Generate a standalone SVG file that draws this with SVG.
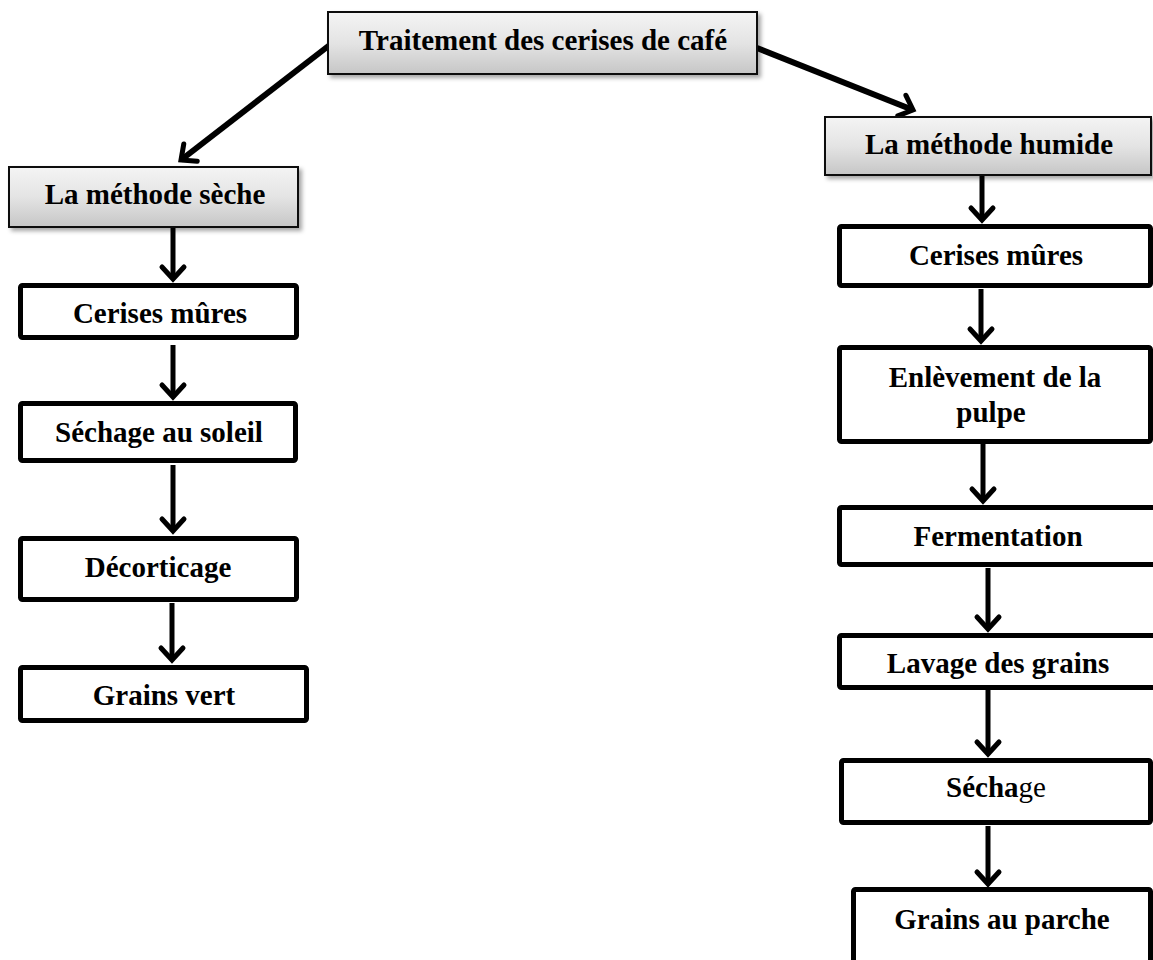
<svg xmlns="http://www.w3.org/2000/svg" width="1153" height="960" viewBox="0 0 1153 960">
  <defs>
    <linearGradient id="headFill" x1="0" y1="0" x2="0" y2="1">
      <stop offset="0" stop-color="#f4f4f4"/>
      <stop offset="0.5" stop-color="#e4e4e4"/>
      <stop offset="1" stop-color="#c6c6c6"/>
    </linearGradient>
    <filter id="shadow" x="-10%" y="-20%" width="125%" height="160%">
      <feDropShadow dx="3" dy="3" stdDeviation="2" flood-color="#000" flood-opacity="0.35"/>
    </filter>
    <marker id="chev" markerUnits="userSpaceOnUse" viewBox="-20 -16 26 32" refX="0" refY="0" markerWidth="26" markerHeight="32" orient="auto" overflow="visible">
      <path d="M-12,-11 L0,0 L-12,11" fill="none" stroke="#000" stroke-width="5" stroke-linecap="round" stroke-linejoin="miter"/>
    </marker>
  </defs>
  <style>
    .head { fill: url(#headFill); stroke: #111; stroke-width: 2; filter: url(#shadow); }
    .step { fill: #fff; stroke: #000; stroke-width: 5; }
    .lbl { font-family: "Liberation Serif", "Times New Roman", serif; font-weight: bold; font-size: 29px; fill: #000; text-anchor: middle; }
    .link { fill: none; stroke: #000; stroke-width: 5; marker-end: url(#chev); }
    .diag { stroke-width: 6; }
  </style>

  <rect width="1153" height="960" fill="#fff"/>

  <!-- connectors -->
  <g id="connectors">
    <line class="link diag" x1="331" y1="44" x2="181" y2="160"/>
    <line class="link diag" x1="757" y1="48" x2="913" y2="110"/>
    <!-- dry method chain -->
    <line class="link" x1="173" y1="228" x2="173" y2="279"/>
    <line class="link" x1="173" y1="345" x2="173" y2="397"/>
    <line class="link" x1="173" y1="465" x2="173" y2="531"/>
    <line class="link" x1="172" y1="603" x2="172" y2="660"/>
    <!-- wet method chain -->
    <line class="link" x1="982" y1="176" x2="982" y2="220"/>
    <line class="link" x1="981" y1="289" x2="981" y2="341"/>
    <line class="link" x1="983" y1="444" x2="983" y2="501"/>
    <line class="link" x1="988" y1="568" x2="988" y2="629"/>
    <line class="link" x1="988" y1="690" x2="988" y2="754"/>
    <line class="link" x1="988" y1="826" x2="988" y2="884"/>
  </g>

  <!-- root -->
  <g id="root">
    <rect class="head" x="328" y="12" width="429" height="62"/>
    <text class="lbl" x="543" y="50">Traitement des cerises de café</text>
  </g>

  <!-- dry method -->
  <g id="dry">
    <rect class="head" x="9" y="167" width="289" height="60"/>
    <text class="lbl" x="155" y="204">La méthode sèche</text>
  </g>
  <g id="dry-cerises">
    <rect class="step" x="20.5" y="285.5" width="276" height="52" rx="2"/>
    <text class="lbl" x="160" y="323">Cerises mûres</text>
  </g>
  <g id="dry-sechage">
    <rect class="step" x="20.5" y="403.5" width="275" height="57" rx="2"/>
    <text class="lbl" x="159" y="442">Séchage au soleil</text>
  </g>
  <g id="dry-decorticage">
    <rect class="step" x="20.5" y="538.5" width="276" height="61" rx="2"/>
    <text class="lbl" x="158" y="577">Décorticage</text>
  </g>
  <g id="dry-grains">
    <rect class="step" x="20.5" y="667.5" width="286" height="53" rx="2"/>
    <text class="lbl" x="164" y="705">Grains vert</text>
  </g>

  <!-- wet method -->
  <g id="wet">
    <rect class="head" x="825" y="117" width="326" height="58"/>
    <text class="lbl" x="989" y="154">La méthode humide</text>
  </g>
  <g id="wet-cerises">
    <rect class="step" x="839.5" y="226.5" width="311" height="59" rx="2"/>
    <text class="lbl" x="996" y="265">Cerises mûres</text>
  </g>
  <g id="wet-pulpe">
    <rect class="step" x="839.5" y="347.5" width="311" height="94" rx="2"/>
    <text class="lbl" x="995" y="387">Enlèvement de la</text>
    <text class="lbl" x="991" y="422">pulpe</text>
  </g>
  <g id="wet-fermentation">
    <rect class="step" x="839.5" y="507.5" width="330" height="57" rx="2"/>
    <text class="lbl" x="998" y="546">Fermentation</text>
  </g>
  <g id="wet-lavage">
    <rect class="step" x="839.5" y="635.5" width="330" height="52" rx="2"/>
    <text class="lbl" x="998" y="673">Lavage des grains</text>
  </g>
  <g id="wet-sechage">
    <rect class="step" x="841.5" y="760.5" width="309" height="62" rx="2"/>
    <text class="lbl" x="996" y="797">Sécha<tspan font-weight="normal">ge</tspan></text>
  </g>
  <g id="wet-grains">
    <rect class="step" x="853.5" y="889.5" width="297" height="90" rx="2"/>
    <text class="lbl" x="1002" y="929">Grains au parche</text>
  </g>
</svg>
